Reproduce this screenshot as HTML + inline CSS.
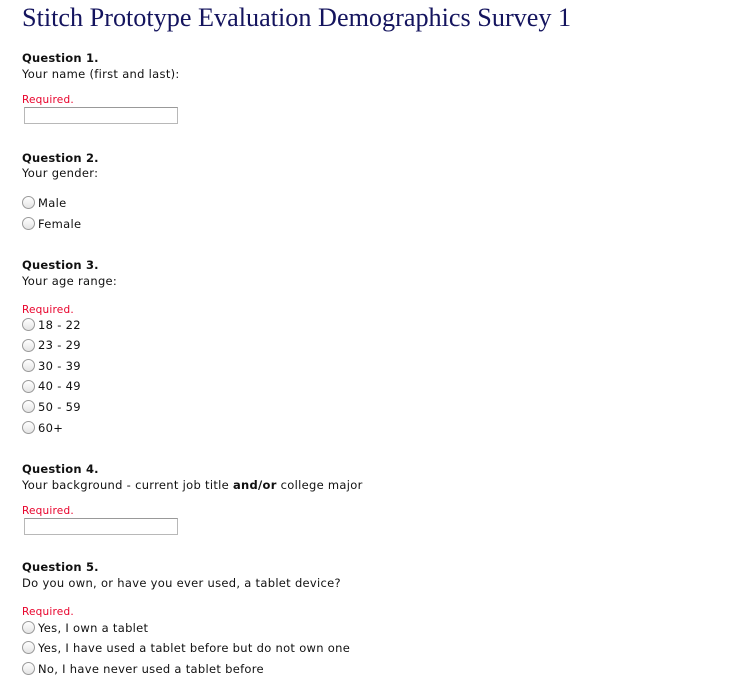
<!DOCTYPE html>
<html><head><meta charset="utf-8">
<style>
html,body{margin:0;padding:0;background:#fff;}
body{width:750px;height:678px;position:relative;overflow:hidden;font-family:"DejaVu Sans","Liberation Sans",sans-serif;font-size:11.5px;letter-spacing:0.3px;color:#111;}
.a{position:absolute;left:22px;line-height:14px;white-space:nowrap;margin-top:1px;}
.t{position:absolute;left:22px;top:2px;font-family:"Liberation Serif",serif;font-size:26.2px;letter-spacing:0;color:#14145e;line-height:32px;white-space:nowrap;}
.q{font-weight:bold;letter-spacing:0.2px;}
.r{color:#e8002a;font-size:10.5px;letter-spacing:0.2px;}
.in{position:absolute;left:24px;width:152px;height:15px;border:1px solid #b8b8b8;border-top-color:#999;background:#fff;}
.rad{position:absolute;left:22px;width:11px;height:11px;border:1px solid #9a9a9a;border-radius:50%;background:linear-gradient(#fff,#e4e4e4);}
.o{position:absolute;left:38px;line-height:14px;white-space:nowrap;margin-top:1px;}
</style></head><body>
<div class="t">Stitch Prototype Evaluation Demographics Survey 1</div>

<div class="a q" style="top:50px">Question 1.</div>
<div class="a" style="top:66px">Your name (first and last):</div>
<div class="a r" style="top:92px">Required.</div>
<div class="in" style="top:107px"></div>

<div class="a q" style="top:150px">Question 2.</div>
<div class="a" style="top:165px">Your gender:</div>
<div class="rad" style="top:196px"></div><div class="o" style="top:195px">Male</div>
<div class="rad" style="top:217px"></div><div class="o" style="top:216px">Female</div>

<div class="a q" style="top:257px">Question 3.</div>
<div class="a" style="top:273px">Your age range:</div>
<div class="a r" style="top:302px">Required.</div>
<div class="rad" style="top:318px"></div><div class="o" style="top:317px">18 - 22</div>
<div class="rad" style="top:339px"></div><div class="o" style="top:337px">23 - 29</div>
<div class="rad" style="top:359px"></div><div class="o" style="top:358px">30 - 39</div>
<div class="rad" style="top:380px"></div><div class="o" style="top:378px">40 - 49</div>
<div class="rad" style="top:400px"></div><div class="o" style="top:399px">50 - 59</div>
<div class="rad" style="top:421px"></div><div class="o" style="top:420px">60+</div>

<div class="a q" style="top:461px">Question 4.</div>
<div class="a" style="top:477px">Your background - current job title <b>and/or</b> college major</div>
<div class="a r" style="top:503px">Required.</div>
<div class="in" style="top:518px"></div>

<div class="a q" style="top:559px">Question 5.</div>
<div class="a" style="top:575px">Do you own, or have you ever used, a tablet device?</div>
<div class="a r" style="top:604px">Required.</div>
<div class="rad" style="top:621px"></div><div class="o" style="top:620px">Yes, I own a tablet</div>
<div class="rad" style="top:641px"></div><div class="o" style="top:640px">Yes, I have used a tablet before but do not own one</div>
<div class="rad" style="top:662px"></div><div class="o" style="top:661px">No, I have never used a tablet before</div>
</body></html>
